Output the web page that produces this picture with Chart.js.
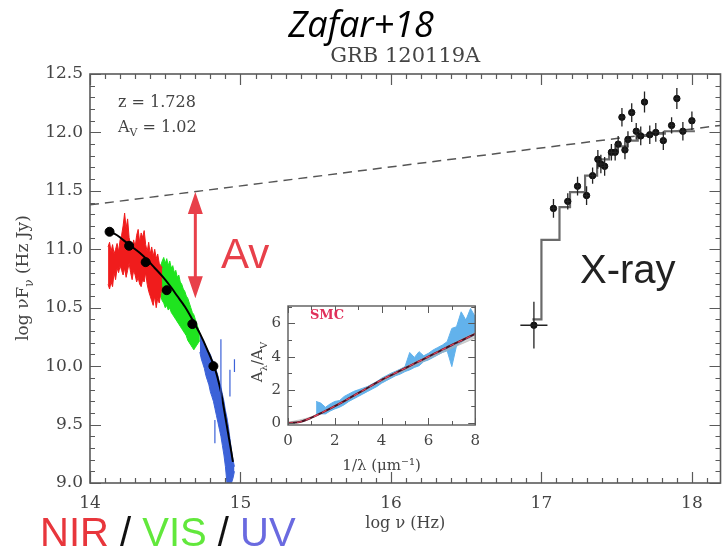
<!DOCTYPE html>
<html>
<head>
<meta charset="utf-8">
<script src="https://cdn.jsdelivr.net/npm/chart.js@4.4.1/dist/chart.umd.min.js"></script>
<style>
  html, body { margin: 0; padding: 0; background: #fff; overflow: hidden; }
  #wrap { position: relative; width: 726px; height: 550px; }
  #sed { position: absolute; left: 0; top: 0; }
  #ext { position: absolute; left: 237px; top: 290px; }
</style>
</head>
<body>
<div id="wrap">
  <canvas id="sed" width="726" height="550"></canvas>
  <canvas id="ext" width="250" height="190"></canvas>
</div>
<script>
// ---- main SED panel ----
const xTicks = [14, 15, 16, 17, 18];
const yTicks = [9.0, 9.5, 10.0, 10.5, 11.0, 11.5, 12.0, 12.5];

// unextinguished power law
const dashNu = [14.0, 18.19];
const dashFlux = [11.38, 12.06];

// extinguished model
const modelNu = [14.12, 14.18, 14.23, 14.28, 14.33, 14.38, 14.43, 14.48, 14.53, 14.58,
                 14.63, 14.68, 14.73, 14.78, 14.83, 14.87, 14.90, 14.92, 14.94, 14.95];
const modelFlux = [11.16, 11.12, 11.07, 11.02, 10.97, 10.91, 10.84, 10.77, 10.69, 10.60,
                   10.51, 10.40, 10.28, 10.14, 9.98, 9.78, 9.56, 9.41, 9.26, 9.18];

// photometry
const photNu = [14.13, 14.26, 14.37, 14.51, 14.68, 14.82];
const photFlux = [11.15, 11.03, 10.89, 10.65, 10.36, 10.00];

// X-shooter spectrum, NIR arm
const nirNu = [14.12, 14.13, 14.14, 14.15, 14.16, 14.17, 14.18, 14.19, 14.20, 14.21,
               14.22, 14.23, 14.24, 14.25, 14.26, 14.27, 14.28, 14.29, 14.30, 14.31,
               14.32, 14.33, 14.34, 14.35, 14.36, 14.37, 14.38, 14.39, 14.40, 14.41,
               14.42, 14.43, 14.44, 14.45, 14.46, 14.47, 14.48];
const nirHi = [11.02, 11.06, 10.98, 11.04, 10.96, 11.00, 11.05, 10.98, 11.08, 11.12,
               11.20, 11.31, 11.18, 11.26, 11.10, 11.04, 11.00, 11.08, 11.02, 11.12,
               11.17, 11.06, 11.14, 11.10, 11.16, 11.04, 10.98, 11.06, 10.96, 11.02,
               10.94, 11.00, 10.92, 10.96, 10.88, 10.86, 10.84];
const nirLo = [10.70, 10.66, 10.72, 10.68, 10.80, 10.74, 10.84, 10.80, 10.86, 10.82,
               10.78, 10.84, 10.76, 10.82, 10.88, 10.80, 10.74, 10.82, 10.78, 10.72,
               10.76, 10.70, 10.68, 10.74, 10.72, 10.80, 10.70, 10.64, 10.60, 10.56,
               10.52, 10.60, 10.50, 10.58, 10.54, 10.62, 10.68];

// VIS arm
const visNu = [14.47, 14.48, 14.49, 14.50, 14.51, 14.52, 14.53, 14.54, 14.55, 14.56,
               14.57, 14.58, 14.59, 14.60, 14.61, 14.62, 14.63, 14.64, 14.65, 14.66,
               14.67, 14.68, 14.69, 14.70, 14.71, 14.72, 14.73];
const visHi = [10.86, 10.90, 10.93, 10.88, 10.92, 10.86, 10.90, 10.84, 10.86, 10.80,
               10.82, 10.76, 10.78, 10.72, 10.70, 10.66, 10.64, 10.60, 10.58, 10.54,
               10.50, 10.46, 10.44, 10.40, 10.36, 10.32, 10.28];
const visLo = [10.60, 10.56, 10.54, 10.50, 10.52, 10.48, 10.50, 10.46, 10.44, 10.42,
               10.40, 10.38, 10.36, 10.34, 10.32, 10.30, 10.28, 10.26, 10.22, 10.20,
               10.18, 10.16, 10.14, 10.16, 10.18, 10.20, 10.22];

// UVB arm
const uvNu = [14.73, 14.74, 14.75, 14.76, 14.77, 14.78, 14.79, 14.80, 14.81, 14.82,
              14.83, 14.84, 14.85, 14.86, 14.87, 14.88, 14.89, 14.90, 14.91, 14.92,
              14.93, 14.94, 14.95, 14.96];
const uvHi = [10.26, 10.24, 10.22, 10.20, 10.16, 10.14, 10.12, 10.10, 10.06, 10.04,
              10.00, 9.96, 9.92, 9.86, 9.82, 9.76, 9.70, 9.62, 9.56, 9.48,
              9.38, 9.28, 9.20, 9.14];
const uvLo = [10.12, 10.06, 10.02, 9.98, 9.92, 9.88, 9.84, 9.78, 9.74, 9.70,
              9.64, 9.58, 9.52, 9.46, 9.40, 9.32, 9.24, 9.14, 9.00, 9.00,
              9.00, 9.00, 9.04, 9.10];
const uvSpikeNu = [14.83, 14.87, 14.93, 14.96];
const uvSpikeHi = [9.54, 10.23, 9.97, 10.06];
const uvSpikeLo = [9.34, 9.60, 9.74, 9.95];

// XRT spectrum
const xrayNu = [16.95, 17.08, 17.175, 17.24, 17.30, 17.34, 17.375, 17.395, 17.42, 17.465,
                17.49, 17.51, 17.535, 17.555, 17.575, 17.60, 17.63, 17.66, 17.685, 17.72,
                17.76, 17.81, 17.865, 17.90, 17.94, 18.00];
const xrayFlux = [10.35, 11.35, 11.41, 11.54, 11.46, 11.63, 11.77, 11.73, 11.71, 11.83,
                  11.83, 11.90, 12.13, 11.85, 11.94, 12.17, 12.01, 11.97, 12.26, 11.98,
                  12.00, 11.93, 12.06, 12.29, 12.01, 12.10];
const xrayFluxErr = [0.20, 0.08, 0.07, 0.08, 0.08, 0.07, 0.08, 0.08, 0.08, 0.07,
                     0.07, 0.07, 0.08, 0.08, 0.07, 0.08, 0.07, 0.08, 0.09, 0.08,
                     0.08, 0.08, 0.07, 0.09, 0.08, 0.08];
const xrayNuErr = [0.09, 0.02, 0.02, 0.02, 0.02, 0.02, 0.02, 0.02, 0.02, 0.02,
                   0.02, 0.02, 0.02, 0.02, 0.02, 0.02, 0.02, 0.02, 0.02, 0.02,
                   0.02, 0.02, 0.02, 0.02, 0.02, 0.02];

// folded model, bin edges
const stepNu = [16.94, 17.00, 17.12, 17.19, 17.29, 17.37, 17.45, 17.50, 17.57, 17.64, 17.73, 17.82, 18.02];
const stepFlux = [10.40, 11.08, 11.36, 11.49, 11.63, 11.77, 11.82, 11.88, 11.93, 11.97, 11.99, 12.01, 12.01];

// A_V arrow
const avNu = 14.70;
const avTop = 11.49;
const avBottom = 10.58;

// ---- inset: extinction curve ----
const extXTicks = [0, 2, 4, 6, 8];
const extYTicks = [0, 2, 4, 6];
const smcX = [0, 0.5, 1, 1.5, 2, 2.5, 3, 3.5, 4, 4.5, 5, 5.5, 6, 6.5, 7, 7.5, 8];
const smcY = [0, 0.06, 0.32, 0.66, 1.02, 1.4, 1.8, 2.2, 2.6, 2.95, 3.3, 3.65, 4.0, 4.35, 4.7, 5.03, 5.37];
const bandX = [0, 1, 2, 3, 4, 5, 6, 7, 8];
const bandHi = [0.04, 0.38, 1.08, 1.86, 2.66, 3.38, 4.06, 4.76, 5.46];
const bandLo = [-0.04, 0.28, 0.96, 1.72, 2.5, 3.18, 3.86, 4.5, 5.12];
const specX = [1.2, 1.4, 1.6, 1.8, 2.0, 2.2, 2.4, 2.6, 2.8, 3.0, 3.2, 3.4, 3.6, 3.8, 4.0, 4.2, 4.4, 4.6,
               4.8, 5.0, 5.2, 5.4, 5.6, 5.8, 6.0, 6.2, 6.4, 6.6, 6.8, 7.0, 7.2, 7.4, 7.6, 7.8, 8.0];
const specHi = [1.30, 1.20, 0.95, 1.15, 1.30, 1.35, 1.60, 1.75, 1.90, 2.00, 2.10, 2.20, 2.35, 2.50, 2.70, 2.85, 3.00, 3.12,
                3.25, 3.40, 4.25, 3.95, 4.30, 4.05, 4.20, 4.40, 4.55, 4.70, 4.90, 5.70, 5.80, 6.70, 6.20, 6.90, 6.40];
const specLo = [0.50, 0.55, 0.55, 0.72, 0.85, 0.95, 1.10, 1.30, 1.45, 1.60, 1.75, 1.90, 2.05, 2.20, 2.40, 2.55, 2.70, 2.85,
                2.95, 3.10, 3.20, 3.35, 3.45, 3.70, 3.80, 3.95, 4.10, 4.25, 4.35, 3.40, 4.65, 4.85, 5.05, 5.15, 5.35];

const ink = '#444';
const serif = 'DejaVu Serif';
const pts = (xs, ys) => xs.map((x, i) => ({ x, y: ys[i] }));

// text with subscripts, parts = [[text, isSub], ...]
function richText(ctx, parts, x, y, size, color, align) {
  ctx.save();
  ctx.fillStyle = color;
  ctx.textAlign = 'left';
  ctx.textBaseline = 'alphabetic';
  const fontOf = sub => (sub ? Math.round(size * 0.68) : size) + 'px "' + serif + '"';
  let w = 0;
  for (const [t, sub] of parts) { ctx.font = fontOf(sub); w += ctx.measureText(t).width; }
  let cx = align === 'center' ? x - w / 2 : x;
  for (const [t, sub] of parts) {
    ctx.font = fontOf(sub);
    ctx.fillText(t, cx, sub ? y + size * 0.28 : y);
    cx += ctx.measureText(t).width;
  }
  ctx.restore();
}

function verticalTitle(ctx, parts, x, y, size) {
  ctx.save();
  ctx.translate(x, y);
  ctx.rotate(-Math.PI / 2);
  richText(ctx, parts, 0, size * 0.36, size, ink, 'center');
  ctx.restore();
}

// box with inward major/minor ticks on all four sides
function framePlugin(id, s) {
  return {
    id,
    afterDatasetsDraw(chart) {
      const { ctx, chartArea: a, scales: { x, y } } = chart;
      const isMajor = (v, step) => Math.abs(v / step - Math.round(v / step)) < 1e-6;
      ctx.save();
      ctx.strokeStyle = '#5a5a5a';
      ctx.lineWidth = s.tickWidth;
      ctx.beginPath();
      for (let i = Math.ceil(x.min / s.xMinor - 1e-6); i * s.xMinor <= x.max + 1e-6; i++) {
        const v = i * s.xMinor;
        const len = isMajor(v, s.xMajor) ? s.majorLen : s.minorLen;
        const px = Math.round(x.getPixelForValue(v)) + 0.5;
        ctx.moveTo(px, a.bottom); ctx.lineTo(px, a.bottom - len);
        ctx.moveTo(px, a.top); ctx.lineTo(px, a.top + len);
      }
      for (let i = Math.ceil(y.min / s.yMinor - 1e-6); i * s.yMinor <= y.max + 1e-6; i++) {
        const v = i * s.yMinor;
        const len = isMajor(v, s.yMajor) ? s.majorLen : s.minorLen;
        const py = Math.round(y.getPixelForValue(v)) + 0.5;
        ctx.moveTo(a.left, py); ctx.lineTo(a.left + len, py);
        ctx.moveTo(a.right, py); ctx.lineTo(a.right - len, py);
      }
      ctx.stroke();
      ctx.lineWidth = s.frameWidth;
      ctx.strokeRect(a.left, a.top, a.right - a.left, a.bottom - a.top);
      ctx.restore();
    }
  };
}

const errorBars = {
  id: 'errorBars',
  afterDatasetsDraw(chart) {
    const { ctx, scales: { x, y } } = chart;
    ctx.save();
    ctx.strokeStyle = '#222';
    ctx.lineWidth = 1.3;
    ctx.beginPath();
    xrayNu.forEach((nu, i) => {
      const px = x.getPixelForValue(nu), py = y.getPixelForValue(xrayFlux[i]);
      ctx.moveTo(px, y.getPixelForValue(xrayFlux[i] - xrayFluxErr[i]));
      ctx.lineTo(px, y.getPixelForValue(xrayFlux[i] + xrayFluxErr[i]));
      ctx.moveTo(x.getPixelForValue(nu - xrayNuErr[i]), py);
      ctx.lineTo(x.getPixelForValue(nu + xrayNuErr[i]), py);
    });
    ctx.stroke();
    ctx.strokeStyle = '#3c62d8';
    ctx.lineWidth = 1.2;
    ctx.beginPath();
    uvSpikeNu.forEach((nu, i) => {
      const px = x.getPixelForValue(nu);
      ctx.moveTo(px, y.getPixelForValue(uvSpikeLo[i]));
      ctx.lineTo(px, y.getPixelForValue(uvSpikeHi[i]));
    });
    ctx.stroke();
    ctx.restore();
  }
};

const sedLabels = {
  id: 'sedLabels',
  afterDraw(chart) {
    const { ctx, scales: { x, y } } = chart;
    // A_V arrow
    const ax = x.getPixelForValue(avNu);
    const top = y.getPixelForValue(avTop), bot = y.getPixelForValue(avBottom);
    const red = '#e8404a';
    ctx.save();
    ctx.strokeStyle = red;
    ctx.fillStyle = red;
    ctx.lineWidth = 3;
    ctx.beginPath();
    ctx.moveTo(ax, top + 18); ctx.lineTo(ax, bot - 18);
    ctx.stroke();
    ctx.beginPath();
    ctx.moveTo(ax, top); ctx.lineTo(ax - 7.5, top + 22); ctx.lineTo(ax + 7.5, top + 22); ctx.closePath();
    ctx.moveTo(ax, bot); ctx.lineTo(ax - 7.5, bot - 22); ctx.lineTo(ax + 7.5, bot - 22); ctx.closePath();
    ctx.fill();

    ctx.textBaseline = 'alphabetic';
    ctx.textAlign = 'left';
    ctx.font = '42px "Liberation Sans"';
    ctx.fillText('Av', 221, 268);
    ctx.fillStyle = '#222';
    ctx.font = '40px "Liberation Sans"';
    ctx.fillText('X-ray', 580, 283);

    // wavelength regimes
    ctx.font = '40px "Liberation Sans"';
    let cx = 40;
    [['NIR', '#e8363c'], [' / ', '#111'], ['VIS', '#62e83c'], [' / ', '#111'], ['UV', '#6a6ae0']]
      .forEach(([t, c]) => { ctx.fillStyle = c; ctx.fillText(t, cx, 546); cx += ctx.measureText(t).width; });
    ctx.restore();

    richText(ctx, [['z = 1.728', false]], 118, 107, 16, ink);
    richText(ctx, [['A', false], ['V', true], [' = 1.02', false]], 118, 132, 16, ink);
    verticalTitle(ctx, [['log \u03bdF', false], ['\u03bd', true], [' (Hz Jy)', false]], 22, 278, 17);
  }
};

// lower order is drawn on top
new Chart(document.getElementById('sed'), {
  type: 'scatter',
  data: {
    datasets: [
      { order: 6, data: pts(nirNu, nirHi), showLine: true, fill: '+1', backgroundColor: '#f01c1c', borderColor: '#f01c1c', borderWidth: 1, pointRadius: 0 },
      { order: 6, data: pts(nirNu, nirLo), showLine: true, fill: false, borderColor: '#f01c1c', borderWidth: 1, pointRadius: 0 },
      { order: 6, data: pts(visNu, visHi), showLine: true, fill: '+1', backgroundColor: '#1fe41f', borderColor: '#1fe41f', borderWidth: 1, pointRadius: 0 },
      { order: 6, data: pts(visNu, visLo), showLine: true, fill: false, borderColor: '#1fe41f', borderWidth: 1, pointRadius: 0 },
      { order: 6, data: pts(uvNu, uvHi), showLine: true, fill: '+1', backgroundColor: '#3c62d8', borderColor: '#3c62d8', borderWidth: 1, pointRadius: 0 },
      { order: 6, data: pts(uvNu, uvLo), showLine: true, fill: false, borderColor: '#3c62d8', borderWidth: 1, pointRadius: 0 },
      { order: 2, data: pts(modelNu, modelFlux), showLine: true, borderColor: '#000', borderWidth: 2, pointRadius: 0, tension: 0.3 },
      { order: 1, data: pts(photNu, photFlux), pointRadius: 4.5, pointBackgroundColor: '#000', pointBorderColor: '#000' },
      { order: 3, data: pts(stepNu, stepFlux), showLine: true, stepped: 'before', borderColor: '#6a6a6a', borderWidth: 2.2, pointRadius: 0 },
      { order: 1, data: pts(xrayNu, xrayFlux), pointRadius: 3.2, pointBackgroundColor: '#111', pointBorderColor: '#111' },
      { order: 4, data: pts(dashNu, dashFlux), showLine: true, borderColor: '#555', borderWidth: 1.5, borderDash: [9, 6], pointRadius: 0 }
    ]
  },
  options: {
    responsive: false,
    animation: false,
    layout: { padding: { left: 0, right: 4, top: 0, bottom: 0 } },
    plugins: {
      legend: { display: false },
      tooltip: { enabled: false },
      title: {
        display: true, text: 'Zafar+18', color: '#000',
        font: { family: 'Open Sans', size: 36, style: 'italic', weight: 'normal', lineHeight: 1 },
        padding: { top: 9, bottom: 0 }
      },
      subtitle: {
        display: true, text: 'GRB 120119A', color: ink, fullSize: false,
        font: { family: serif, size: 21, weight: 'normal', lineHeight: 1 },
        padding: { top: 1, bottom: 7 }
      }
    },
    scales: {
      x: {
        type: 'linear', min: 14, max: 18.19,
        afterBuildTicks: s => { s.ticks = xTicks.map(v => ({ value: v })); },
        afterFit: s => { s.height = 67; },
        grid: { display: false, drawTicks: false },
        border: { display: false },
        ticks: { padding: 10, color: ink, maxRotation: 0, font: { family: serif, size: 17 }, callback: v => String(v) },
        title: { display: true, text: 'log \u03bd (Hz)', color: ink, font: { family: serif, size: 16 }, padding: { top: 0, bottom: 17 } }
      },
      y: {
        type: 'linear', min: 9, max: 12.5,
        afterBuildTicks: s => { s.ticks = yTicks.map(v => ({ value: v })); },
        afterFit: s => { s.width = 90; },
        grid: { display: false, drawTicks: false },
        border: { display: false },
        ticks: { padding: 7, color: ink, font: { family: serif, size: 17 }, callback: v => v.toFixed(1) }
      }
    }
  },
  plugins: [
    framePlugin('sedFrame', { xMinor: 0.1, xMajor: 1, yMinor: 0.1, yMajor: 0.5, majorLen: 11, minorLen: 5, tickWidth: 1.2, frameWidth: 1.6 }),
    errorBars, sedLabels
  ]
});

const extLabels = {
  id: 'extLabels',
  afterDraw(chart) {
    const { ctx } = chart;
    ctx.save();
    ctx.fillStyle = '#e0305a';
    ctx.font = 'bold 13px "' + serif + '"';
    ctx.textAlign = 'center';
    ctx.textBaseline = 'middle';
    ctx.fillText('SMC', 90, 26);
    ctx.restore();
    verticalTitle(ctx, [['A', false], ['\u03bb', true], ['/A', false], ['V', true]], 20, 72, 15);
  }
};

new Chart(document.getElementById('ext'), {
  type: 'scatter',
  data: {
    datasets: [
      { order: 3, data: pts(specX, specHi), showLine: true, fill: '+1', backgroundColor: '#62b2ec', borderColor: '#62b2ec', borderWidth: 1, pointRadius: 0 },
      { order: 3, data: pts(specX, specLo), showLine: true, fill: false, borderColor: '#62b2ec', borderWidth: 1, pointRadius: 0 },
      { order: 2, data: pts(bandX, bandHi), showLine: true, fill: '+1', backgroundColor: 'rgba(175,175,175,0.55)', borderColor: 'rgba(175,175,175,0.55)', borderWidth: 1, pointRadius: 0, tension: 0.3 },
      { order: 2, data: pts(bandX, bandLo), showLine: true, fill: false, borderColor: 'rgba(175,175,175,0.55)', borderWidth: 1, pointRadius: 0, tension: 0.3 },
      { order: 1, data: pts(smcX, smcY), showLine: true, borderColor: '#4a1222', borderWidth: 2, pointRadius: 0, tension: 0.3 },
      { order: 0, data: pts(smcX, smcY), showLine: true, borderColor: '#e0405a', borderWidth: 1.2, borderDash: [5, 4], pointRadius: 0, tension: 0.3 }
    ]
  },
  options: {
    responsive: false,
    animation: false,
    layout: { padding: { left: 0, right: 6, top: 10, bottom: 0 } },
    plugins: { legend: { display: false }, tooltip: { enabled: false } },
    scales: {
      x: {
        type: 'linear', min: 0, max: 8,
        afterBuildTicks: s => { s.ticks = extXTicks.map(v => ({ value: v })); },
        afterFit: s => { s.height = 55; },
        grid: { display: false, drawTicks: false },
        border: { display: false },
        ticks: { padding: 7, color: ink, maxRotation: 0, font: { family: serif, size: 15 }, callback: v => String(v) },
        title: { display: true, text: '1/\u03bb (\u03bcm\u207b\u00b9)', color: ink, font: { family: serif, size: 15 }, padding: { top: 0, bottom: 5 } }
      },
      y: {
        type: 'linear', min: -0.12, max: 7.05,
        afterBuildTicks: s => { s.ticks = extYTicks.map(v => ({ value: v })); },
        afterFit: s => { s.width = 51; },
        grid: { display: false, drawTicks: false },
        border: { display: false },
        ticks: { padding: 7, color: ink, font: { family: serif, size: 15 }, callback: v => String(v) }
      }
    }
  },
  plugins: [
    framePlugin('extFrame', { xMinor: 1, xMajor: 2, yMinor: 1, yMajor: 2, majorLen: 7, minorLen: 4, tickWidth: 1, frameWidth: 1.4 }),
    extLabels
  ]
});
</script>
</body>
</html>
